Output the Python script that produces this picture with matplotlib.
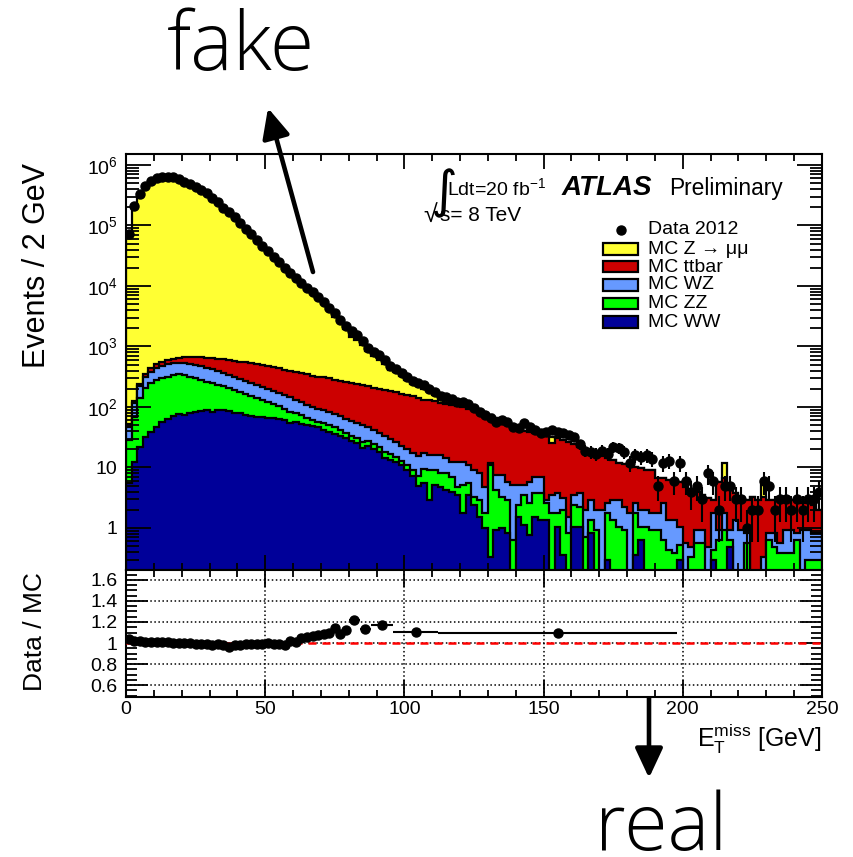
import numpy as np
import matplotlib
matplotlib.use("Agg")
import matplotlib.pyplot as plt
from matplotlib.patches import Rectangle
from matplotlib.lines import Line2D
from matplotlib.ticker import MultipleLocator, LogLocator, FixedLocator, FuncFormatter

plt.rcParams['font.family'] = ['Liberation Sans', 'DejaVu Sans']
plt.rcParams['mathtext.fontset'] = 'custom'
plt.rcParams['mathtext.rm'] = 'Liberation Sans'
plt.rcParams['mathtext.it'] = 'Liberation Sans:italic'
plt.rcParams['mathtext.bf'] = 'Liberation Sans:bold'

# 2 GeV bins from 0 to 250 GeV
edges = np.arange(0, 252, 2)

# MC samples, events per bin
ww = [5.5, 12.3, 21.8, 32, 38.6, 47, 56.5, 63, 71, 77, 74, 80, 83, 86, 89, 83, 89, 89,
      86, 80, 80, 74, 71, 68, 68, 66, 66, 63, 61, 54, 56.5, 52, 50, 48, 47,
      42, 38.6, 36, 33, 30.7, 27.4, 25.4, 21, 22.6, 20.2, 18, 14.3, 13.3, 12.3, 11, 9.1, 7.2, 4.95,
      5.5, 2.9, 5.1, 4.8, 4.2, 3.9, 3.5, 1.8, 3.5, 2.4, 1.5, 1.0, 0.33, 0.93, 1.0, 0.83, 0, 1.5,
      1.12, 0.77, 1.5, 1.36, 1.36, 0, 1.04, 0.36, 0, 1.04, 1.04, 0, 0.83, 0, 0, 0.3, 0,
      0, 0, 0, 0.36, 0.63, 0, 0, 0, 0, 0, 0, 0.3, 0, 0, 0, 0, 0, 0.3,
      0, 0, 0.49, 0, 0, 0, 0, 0, 0, 0, 0, 0, 0, 0, 0, 0, 0, 0, 0]
zz = [23, 55.7, 119, 174, 210, 232, 245, 250, 267, 274, 264, 233, 219, 193, 170, 166, 142, 133,
      120, 111, 97, 90, 81, 73, 63, 55, 46, 41, 31.5, 29, 23.5, 22, 16, 13, 9.5,
      12, 11.4, 11, 9, 6.3, 5.6, 5.3, 5.4, 4.8, 4.3, 3.8, 3.7, 3.4, 2.6, 1.8, 1.9, 1.9, 2.25,
      4.0, 6.2, 4.0, 3.3, 3.9, 3.1, 1.3, 3.3, 2.0, 0.9, 1.4, 0.8, 10.7, 3.3, 2.3, 2.1, 0.63, 0.9,
      2.4, 1.8, 2.3, 2.4, 1.2, 1.8, 0.76, 1.64, 0.83, 1.36, 1.16, 0.71, 0.53, 0.93, 0, 1.5, 1.36,
      1.04, 0.93, 0, 1.44, 0.41, 1.04, 0.93, 0.93, 0.63, 0.43, 0.39, 0.22, 0, 0.33, 0.56, 0.56, 0, 0.13,
      0.63, 0.93, 0.14, 0, 0, 0.56, 0, 0, 0, 0.63, 0.49, 0.39, 0.39, 0.39, 0.63, 0, 0.3, 0.3, 0.3]
wz = [18.5, 48, 81, 107, 130, 162, 174, 201, 196, 183, 196, 201, 192, 197, 182, 176, 163, 143,
      132, 122, 113, 105, 97, 90, 83, 78, 72, 66, 65.5, 63, 51, 47, 42, 39, 36,
      35, 33, 30, 29, 26.4, 25.7, 23.7, 23.6, 19.6, 17.5, 15.2, 15, 12.9, 11.5, 9.8, 9.2, 8.3, 8.3,
      7.7, 7.0, 7.0, 8.0, 6.2, 5.3, 7.5, 7.2, 5.5, 5.8, 5.2, 3.0, 0.9, 3.3, 4.2, 2.9, 4.5, 2.7,
      1.6, 3.2, 3.2, 3.2, 0.3, 1.7, 2.0, 1.1, 0.67, 1.1, 1.6, 1.3, 1.54, 1.07, 2.0, 0.8, 1.54,
      1.86, 1.27, 1.8, 0.8, 0.96, 0.96, 0.87, 0.87, 2.0, 0.93, 0.97, 0.52, 0.56, 0.16, 0.37, 0.37, 0.49, 1.37,
      0.3, 0.87, 0.3, 1.36, 0.93, 0.27, 0, 0, 0.33, 0.2, 0.34, 0.17, 0.54, 0.54, 0.2, 0.93, 0.63, 0.53, 0.53]
ttbar = [5, 10, 20, 35, 55, 70, 79, 84, 90, 111, 136, 156, 176, 194, 204, 220, 227, 256,
         260, 263, 265, 286, 285, 283, 280, 277, 274, 271, 251, 248, 248, 244, 243, 225, 220,
         224, 219, 202, 198, 196, 190, 186, 181, 175, 164, 162, 158, 154, 151, 141, 138, 135, 125,
         115, 115, 110, 100, 98, 96, 92, 88, 81.5, 80, 75, 75, 62, 58.5, 51, 46, 42, 38,
         35, 32.8, 30, 28.8, 31, 21.9, 26.9, 25.4, 24.9, 21, 18, 17.5, 15.1, 14.7, 13.5, 11.7, 10.4,
         9.0, 9.2, 8.8, 7.6, 7.8, 7.1, 7.3, 4.9, 4.1, 4.84, 4.84, 4.76, 4.24, 3.7, 2.97, 2.57, 2.6, 1.1,
         4.87, 4.9, 3.87, 2.44, 2.37, 2.07, 3.3, 2.9, 2.97, 2.07, 2.07, 2.74, 2.37, 1.97, 2.07, 1.67, 1.67, 1.57, 1.17]
zmumu = [69700, 206000, 327000, 444000, 537000, 602000, 627000, 626000, 622000, 586000,
         525000, 495000, 443000, 389000, 342000, 294000, 248000, 201000, 174000, 139000,
         111000, 89600, 71200, 57400, 46500, 37500, 30400, 24700, 20100, 15700,
         13100, 10300, 8390, 7130, 5930, 4800, 3730, 2800, 2250, 1690,
         1206, 1035, 840, 629, 484, 405, 318, 229, 208, 160, 125, 87, 81, 69, 52, 34,
         12, 4, 2, 1.5, 0, 1, 2, 0, 0, 0, 0, 0, 0, 0, 0, 0, 0, 0, 0, 0,
         6.6, 0, 0, 0, 0, 0, 0, 0, 0, 0, 0, 0, 0, 0, 0, 0, 0, 0, 0, 0,
         0, 0, 0, 0, 0, 0, 0, 0, 0, 0, 0, 5.2, 0, 0, 0, 0, 0, 0, 2.2,
         0, 0, 0, 0, 0, 0, 0, 0, 0, 0]

# Data 2012, events per bin
data = [72400, 210000, 332000, 450000, 544000, 610000, 634000, 630000, 625000, 587000,
        524000, 494000, 441000, 386000, 338000, 290000, 245000, 198000, 167000, 136000,
        110000, 89000, 71000, 57600, 46700, 37900, 30700, 24900, 20200, 16400,
        13600, 11200, 9270, 7960, 6700, 5540, 4410, 3510, 2740, 2180,
        1770, 1550, 1210, 962, 811, 710, 598, 485, 425, 358,
        313, 264, 245, 227, 202, 177, 152, 146, 133, 121,
        119, 110, 98, 83, 74, 67, 56, 61, 56, 47,
        45, 54, 47, 42, 37, 39, 42, 39, 37, 34,
        32, 24, 19, 18, 17, 19, 17, 22, 21, 18,
        12, 16, 15, 16, 14, 5, 12, 13, 6, 12,
        6, 4, 5, 3, 8, 6, 2, 5, 5, 3, 3, 1, 2, 2, 6, 5, 2, 3, 3, 2, 3, 2, 3, 3, 4]

# Data / MC, rebinned above 80 GeV
ratio_edges = list(range(0, 82, 2)) + [84, 88, 96, 112, 198]
ratio_vals = [1.039, 1.02, 1.016, 1.013, 1.013, 1.013, 1.01, 1.006, 1.003, 1.0,
              0.997, 0.997, 0.994, 0.99, 0.987, 0.984, 0.987, 0.98, 0.958, 0.977,
              0.984, 0.987, 0.99, 0.994, 0.994, 0.997, 0.994, 0.99, 0.984, 1.02,
              1.013, 1.05, 1.06, 1.068, 1.074, 1.084, 1.094, 1.14, 1.087, 1.12,
              1.216, 1.13, 1.175, 1.105, 1.10]
ratio_errs = [0.005, 0.003, 0.002, 0.002, 0.002, 0.002, 0.002, 0.002, 0.002, 0.002,
              0.002, 0.002, 0.002, 0.002, 0.002, 0.003, 0.003, 0.003, 0.003, 0.004,
              0.004, 0.004, 0.005, 0.005, 0.006, 0.006, 0.007, 0.007, 0.008, 0.009,
              0.01, 0.011, 0.012, 0.013, 0.014, 0.015, 0.017, 0.02, 0.021, 0.024,
              0.022, 0.024, 0.023, 0.03, 0.03]

labels = ['MC WW', 'MC ZZ', 'MC WZ', 'MC ttbar', 'MC Z \u2192 \u03bc\u03bc']
colors = ['#000099', '#00ff00', '#6699ff', '#cc0000', '#ffff33']

W, H = 854, 857


def fx(x):
    return x / W


def fy(y):
    return 1 - y / H


fig = plt.figure(figsize=(8.54, 8.57), dpi=100)
ax1 = fig.add_axes([fx(126), fy(570), 696 / W, 416 / H])
ax2 = fig.add_axes([fx(126), fy(697), 696 / W, 127 / H])

# stacked histograms, drawn from the total down
stack = np.cumsum([ww, zz, wz, ttbar, zmumu], axis=0)
floor = 1e-3
for k in range(4, -1, -1):
    top = np.maximum(stack[k], floor)
    ax1.stairs(top, edges, baseline=floor, fill=True, color=colors[k], lw=0)
    ax1.stairs(top, edges, baseline=floor, color='black', lw=1.6)

centers = edges[:-1] + 1
n = np.array(data, float)
err = np.sqrt(n)
lo = np.minimum(err, n - floor)
ax1.errorbar(centers, n, yerr=[lo, err], fmt='o', ms=6.5, color='black',
             elinewidth=1.5, capsize=0, zorder=5, clip_on=True)

ax1.set_xlim(0, 250)
ax1.set_yscale('log')
ax1.set_ylim(0.202, 1.52e6)
ax1.xaxis.set_major_locator(MultipleLocator(50))
ax1.xaxis.set_minor_locator(MultipleLocator(10))
ax1.yaxis.set_major_locator(LogLocator(base=10, numticks=20))
ax1.yaxis.set_minor_locator(LogLocator(base=10, subs=np.arange(2, 10), numticks=20))


def log_label(v, pos):
    if v < 0.9:
        return ''
    if abs(v - 1) < 1e-6:
        return '1'
    if abs(v - 10) < 1e-6:
        return '10'
    return r'$\mathregular{10^{%d}}$' % round(np.log10(v))


ax1.yaxis.set_major_formatter(FuncFormatter(log_label))
ax1.tick_params(axis='both', which='both', direction='in', top=True, right=True, width=1.3)
ax1.tick_params(axis='y', which='major', length=18, labelsize=14, pad=6)
ax1.tick_params(axis='y', which='minor', length=9)
ax1.tick_params(axis='x', which='major', length=11, labelbottom=False)
ax1.tick_params(axis='x', which='minor', length=5)
for s in ax1.spines.values():
    s.set_linewidth(1.5)

# ratio panel
r_edges = np.array(ratio_edges, float)
r_centers = (r_edges[:-1] + r_edges[1:]) / 2
r_half = (r_edges[1:] - r_edges[:-1]) / 2
ax2.set_xlim(0, 250)
ax2.set_ylim(0.486, 1.695)
ax2.grid(True, which='major', ls=':', color='black', lw=1.1)
ax2.axhline(1, color='red', lw=1.8, ls=(0, (3.2, 2.4)), zorder=3)
ax2.errorbar(r_centers, ratio_vals, xerr=r_half, yerr=ratio_errs, fmt='o', ms=6.5,
             color='black', elinewidth=1.5, capsize=0, zorder=5)
ax2.xaxis.set_major_locator(MultipleLocator(50))
ax2.xaxis.set_minor_locator(MultipleLocator(10))
ax2.yaxis.set_major_locator(FixedLocator([0.6, 0.8, 1.0, 1.2, 1.4, 1.6]))
ax2.yaxis.set_minor_locator(MultipleLocator(0.05))
ax2.yaxis.set_major_formatter(FuncFormatter(lambda v, p: '%g' % round(v, 1)))
ax2.tick_params(axis='both', which='both', direction='in', top=True, right=True, width=1.3)
ax2.tick_params(axis='y', which='major', length=16, labelsize=14, pad=6)
ax2.tick_params(axis='y', which='minor', length=8)
ax2.tick_params(axis='x', which='major', length=12, labelsize=14, pad=3)
ax2.tick_params(axis='x', which='minor', length=5)
for s in ax2.spines.values():
    s.set_linewidth(1.5)

# axis titles
fig.text(fx(37), fy(265), 'Events / 2 GeV', rotation=90, ha='center', va='center', fontsize=22)
fig.text(fx(35), fy(632), 'Data / MC', rotation=90, ha='center', va='center', fontsize=19)
fig.text(fx(822), fy(747), r'$\mathregular{E_{T}^{miss}}$ [GeV]', ha='right', va='baseline', fontsize=18)

# labels inside the upper panel
fig.text(fx(430), fy(207), '\u222b', ha='left', va='baseline', fontsize=37, family='DejaVu Sans')
fig.text(fx(447), fy(195), r'Ldt=20 fb$^{\mathregular{-1}}$', ha='left', va='baseline', fontsize=14)
fig.text(fx(423), fy(222), '\u221a', ha='left', va='baseline', fontsize=18)
fig.text(fx(440), fy(221), 's= 8 TeV', ha='left', va='baseline', fontsize=15)
fig.text(fx(562), fy(195), 'ATLAS', ha='left', va='baseline', fontsize=20,
         fontweight='bold', fontstyle='italic')
fig.text(fx(669), fy(195), 'Preliminary', ha='left', va='baseline', fontsize=16.4)

# legend
ax1.add_line(Line2D([fx(621.5)], [fy(230)], marker='o', ms=6.5, color='black',
                    transform=fig.transFigure, clip_on=False))
fig.text(fx(648), fy(230), 'Data 2012', ha='left', va='center', fontsize=14)
rows = [249, 267, 285, 303.5, 322]
for yrow, k in zip(rows, range(4, -1, -1)):
    fig.patches.append(Rectangle((fx(603), fy(yrow + 5.5)), 35 / W, 11 / H,
                                 facecolor=colors[k], edgecolor='black', lw=1.6,
                                 transform=fig.transFigure))
    fig.text(fx(648), fy(yrow), labels[k], ha='left', va='center', fontsize=14)

# annotations
fig.text(fx(241), fy(70), 'fake', ha='center', va='baseline', fontsize=58,
         family=['Open Sans', 'Lato'], fontweight=300)
fig.text(fx(661), fy(850), 'real', ha='center', va='baseline', fontsize=57,
         family=['Open Sans', 'Lato'], fontweight=300)
ax1.annotate('', xy=(268, H - 108), xytext=(313, H - 272),
             xycoords='figure pixels', textcoords='figure pixels',
             arrowprops=dict(arrowstyle='-|>,head_length=0.9,head_width=0.42',
                             mutation_scale=20, lw=3.3, color='black',
                             shrinkA=0, shrinkB=0), annotation_clip=False)
ax1.annotate('', xy=(649, H - 778), xytext=(649, H - 591),
             xycoords='figure pixels', textcoords='figure pixels',
             arrowprops=dict(arrowstyle='-|>,head_length=0.9,head_width=0.42',
                             mutation_scale=20, lw=3.3, color='black',
                             shrinkA=0, shrinkB=0), annotation_clip=False)

fig.savefig('out.png', dpi=100)
